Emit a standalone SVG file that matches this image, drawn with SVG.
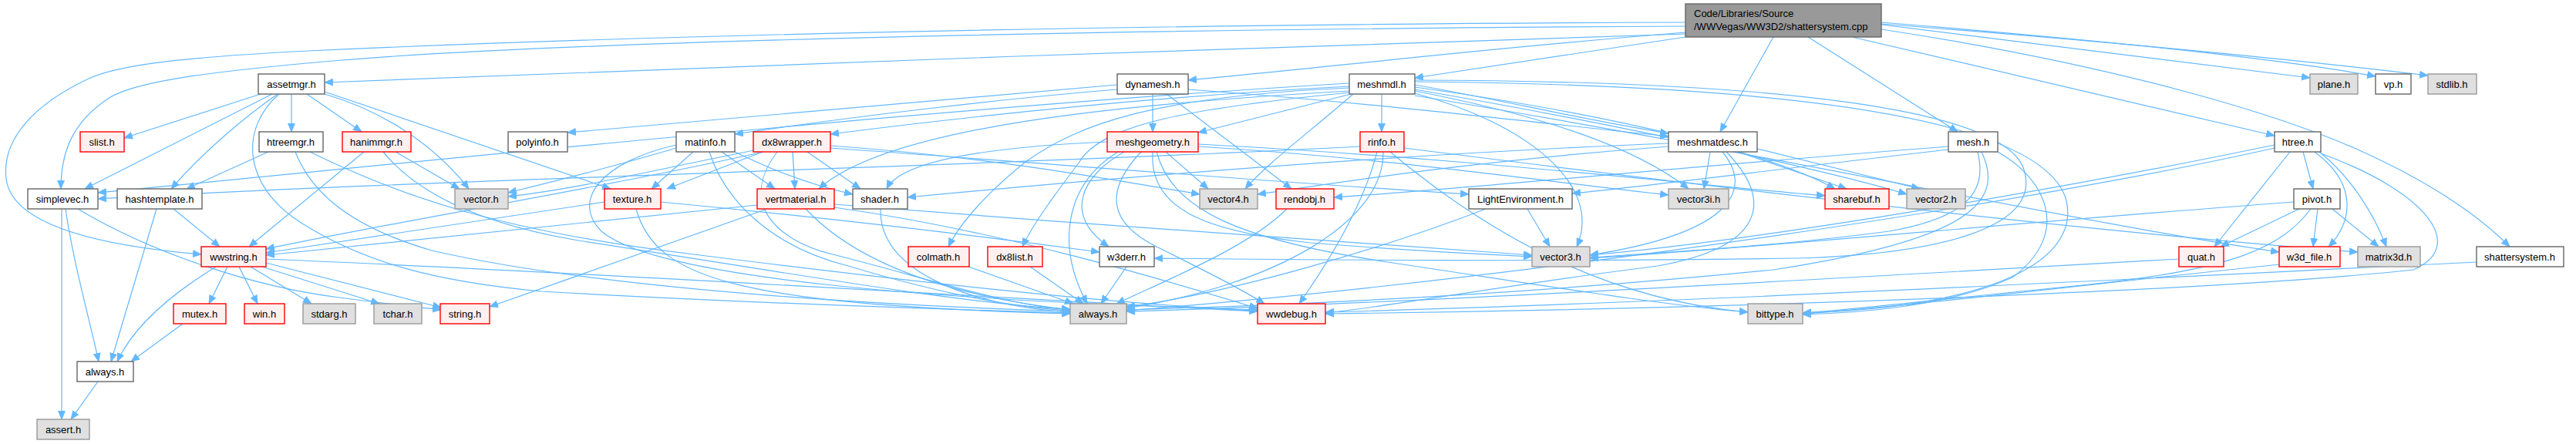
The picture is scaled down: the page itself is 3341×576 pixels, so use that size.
<svg xmlns="http://www.w3.org/2000/svg" width="3341" height="576" viewBox="0 0 3341 576">
<style>
.w{fill:#ffffff;stroke:#666666;stroke-width:1.4}
.r{fill:#fff0f0;stroke:#ff0000;stroke-width:1.4}
.g{fill:#e0e0e0;stroke:#999999;stroke-width:1.4}
.rt{fill:#999999;stroke:#666666;stroke-width:1.4}
text{font-family:"Liberation Sans",Arial,sans-serif;font-size:13px;fill:#000;text-anchor:middle}
.lt{text-anchor:start}
#edges path{fill:none;stroke:#63b8ff;stroke-width:1.2;marker-end:url(#a)}
</style>
<defs>
<marker id="a" viewBox="0 0 12 10" refX="11" refY="5" markerWidth="12" markerHeight="10" markerUnits="userSpaceOnUse" orient="auto">
<path d="M0,0 L12,5 L0,10 z" fill="#63b8ff"/>
</marker>
</defs>
<rect width="3341" height="576" fill="#ffffff"/>
<g id="edges">
<path d="M2186,44 C1700,58 900,88 421,107"/>
<path d="M2186,34 C1400,38 700,55 420,80 C250,95 170,108 140,128 C92,160 79,200 79,245"/>
<path d="M2186,29 C1300,32 700,52 400,66 C220,75 150,86 115,102 C45,135 2,180 8,232 C15,290 120,318 261,330"/>
<path d="M2186,42 C1900,65 1700,90 1541,104"/>
<path d="M2186,48 L1835,101"/>
<path d="M2300,48 L2231,171"/>
<path d="M2345,48 L2539,171"/>
<path d="M2402,48 L2950,176"/>
<path d="M2440,38 C2750,85 2960,150 3060,195 C3160,240 3220,285 3255,320"/>
<path d="M2440,32 L2996,101"/>
<path d="M2440,29 C2700,50 2950,75 3081,99"/>
<path d="M2440,31 C2750,55 3000,80 3149,98"/>
<path d="M338,122 L161,179"/>
<path d="M378,122 L378,171"/>
<path d="M398,122 L469,171"/>
<path d="M353,122 L110,245"/>
<path d="M360,122 C320,150 265,195 222,245"/>
<path d="M421,122 C500,145 565,190 608,245"/>
<path d="M421,119 L792,245"/>
<path d="M362,122 C312,165 312,240 392,290 C472,340 562,365 702,378 C1000,395 1250,402 1388,406"/>
<path d="M348,197 L242,245"/>
<path d="M383,197 C400,240 440,290 560,325 C800,380 1200,398 1388,404"/>
<path d="M402,197 C520,255 650,300 900,330 C1200,368 1450,395 1631,403"/>
<path d="M472,197 L323,320"/>
<path d="M513,197 L596,245"/>
<path d="M497,197 C540,250 620,290 750,312 C1000,350 1250,395 1388,401"/>
<path d="M80,271 L80,544"/>
<path d="M85,271 C95,340 115,410 128,469"/>
<path d="M101,271 C200,330 330,372 440,386 C500,394 540,398 572,402"/>
<path d="M203,271 L144,469"/>
<path d="M225,271 L285,320"/>
<path d="M280,346 C225,380 175,420 152,469"/>
<path d="M295,346 L271,394"/>
<path d="M310,346 L334,394"/>
<path d="M325,346 L404,394"/>
<path d="M340,346 L492,394"/>
<path d="M345,341 L572,399"/>
<path d="M345,336 C800,355 1350,390 1631,404"/>
<path d="M237,420 L170,469"/>
<path d="M127,495 L92,544"/>
<path d="M1449,110 L736,172"/>
<path d="M1449,116 C1300,128 1100,152 953,174"/>
<path d="M1495,122 L1495,171"/>
<path d="M1513,122 L1675,245"/>
<path d="M1541,116 C1800,135 2000,160 2164,177"/>
<path d="M1792,122 L1792,171"/>
<path d="M1752,122 L1554,172"/>
<path d="M1750,112 C1500,125 1250,152 1077,174"/>
<path d="M1750,118 C1450,135 1150,165 1062,245"/>
<path d="M1750,114 C1500,125 1400,160 1330,210 C1280,250 1245,290 1230,320"/>
<path d="M1750,120 C1550,140 1430,160 1400,210 C1370,250 1340,290 1326,320"/>
<path d="M1835,110 C1950,130 2050,155 2164,173"/>
<path d="M1835,118 C2000,150 2120,190 2190,245"/>
<path d="M1835,121 C1980,160 2080,240 2045,320"/>
<path d="M1755,122 C1700,170 1640,215 1615,245"/>
<path d="M1750,108 C1200,140 500,215 127,250"/>
<path d="M1835,113 C2100,150 2300,200 2380,245"/>
<path d="M1835,116 C2150,170 2400,230 2473,252"/>
<path d="M1835,106 C2300,110 2650,150 2680,260 C2700,350 2550,400 2338,406"/>
<path d="M1835,104 C2300,105 2600,140 2625,220 C2650,300 2500,330 2330,335 C2000,340 1700,337 1497,335"/>
<path d="M1835,124 C2300,200 2700,290 2956,327"/>
<path d="M1512,197 L1567,245"/>
<path d="M1458,197 C1400,230 1380,280 1438,320"/>
<path d="M1450,197 C1380,240 1370,320 1410,394"/>
<path d="M1480,197 C1430,250 1440,290 1500,320 C1560,350 1610,375 1640,394"/>
<path d="M1495,197 C1490,270 1560,300 1700,315 C1850,327 1930,330 1987,333"/>
<path d="M1500,197 C1520,270 1600,310 1800,340 C2000,370 2150,395 2267,405"/>
<path d="M1436,184 C1300,190 1170,205 1150,245"/>
<path d="M1554,190 C1800,205 2000,235 2164,253"/>
<path d="M1554,187 C1900,205 2200,240 2367,254"/>
<path d="M1786,197 C1770,260 1730,330 1685,394"/>
<path d="M1803,197 C1950,320 2100,390 2267,405"/>
<path d="M1794,197 C1795,290 1650,370 1461,400"/>
<path d="M1764,190 C1300,215 500,235 127,258"/>
<path d="M1821,192 C2200,240 2700,300 3058,327"/>
<path d="M1981,271 L2010,320"/>
<path d="M1927,271 C1800,320 1600,380 1461,398"/>
<path d="M2218,197 L2210,245"/>
<path d="M2234,197 C2270,240 2260,300 2062,331"/>
<path d="M2239,197 C2300,260 2290,320 2150,345 C1950,370 1800,398 1719,406"/>
<path d="M2254,197 L2395,245"/>
<path d="M2279,193 L2490,245"/>
<path d="M2164,190 C1900,210 1750,235 1631,252"/>
<path d="M2164,186 C1800,200 1400,235 1177,256"/>
<path d="M2527,190 C2200,215 1900,245 1730,256"/>
<path d="M2527,194 C2300,220 2150,240 2039,251"/>
<path d="M2565,197 C2575,240 2565,280 2450,300 C2300,320 2150,328 2062,334"/>
<path d="M2570,197 C2600,260 2560,310 2300,350 C2000,380 1700,395 1461,402"/>
<path d="M2591,197 C2650,230 2690,300 2610,360 C2520,400 2400,406 2338,408"/>
<path d="M2987,197 L3000,245"/>
<path d="M2970,197 L2872,320"/>
<path d="M3002,197 C3060,240 3050,290 3020,320"/>
<path d="M3008,197 C3050,230 3080,280 3095,320"/>
<path d="M3010,199 C3150,250 3200,320 3130,350 C2900,375 2300,400 1719,407"/>
<path d="M2950,188 C2700,240 2300,310 2062,331"/>
<path d="M2950,192 C2650,260 2000,360 1461,403"/>
<path d="M2982,271 L2880,320"/>
<path d="M3006,271 L3000,320"/>
<path d="M3025,271 L3085,320"/>
<path d="M2975,262 C2600,290 2300,320 2062,335"/>
<path d="M2997,271 C2960,320 2900,350 2700,370 C2500,390 2400,402 2338,406"/>
<path d="M2826,336 C2400,360 1800,395 1461,404"/>
<path d="M2956,343 C2700,370 2450,400 2338,407"/>
<path d="M3212,340 C2800,360 2200,392 1719,405"/>
<path d="M877,192 C800,215 700,240 659,250"/>
<path d="M899,197 L845,245"/>
<path d="M936,197 L1005,245"/>
<path d="M953,197 C1000,220 1050,240 1106,252"/>
<path d="M920,197 C940,260 1000,320 1100,345 C1200,375 1300,398 1388,403"/>
<path d="M877,188 C780,210 740,260 780,300 C850,360 1200,390 1631,402"/>
<path d="M978,195 C850,220 750,245 659,255"/>
<path d="M989,197 L865,245"/>
<path d="M1028,197 L1031,245"/>
<path d="M1047,197 L1116,245"/>
<path d="M1008,197 C960,260 1000,310 1080,330 C1200,360 1300,395 1388,402"/>
<path d="M1077,189 C1300,205 1450,235 1556,252"/>
<path d="M1077,192 C1400,215 1700,240 1905,252"/>
<path d="M990,197 C800,240 500,290 345,323"/>
<path d="M784,262 L345,328"/>
<path d="M825,271 C850,360 950,395 1388,407"/>
<path d="M857,262 C1100,285 1300,310 1426,327"/>
<path d="M995,271 L635,398"/>
<path d="M982,266 L345,331"/>
<path d="M1045,271 C1100,330 1200,380 1388,402"/>
<path d="M1082,265 C1400,290 1800,320 1987,331"/>
<path d="M1082,269 C1300,300 1500,360 1631,400"/>
<path d="M1142,271 C1140,350 1250,395 1388,405"/>
<path d="M1256,346 L1392,394"/>
<path d="M1336,346 L1405,394"/>
<path d="M1461,346 L1428,394"/>
<path d="M1669,271 C1620,320 1520,360 1448,394"/>
</g>
<g id="root"><rect class="rt" x="2186" y="5" width="254" height="43"/><text class="lt" x="2197" y="22">Code/Libraries/Source</text><text class="lt" x="2197" y="39">/WWVegas/WW3D2/shattersystem.cpp</text></g>
<g id="assetmgr"><rect class="w" x="335" y="96" width="86" height="26"/><text x="378" y="114">assetmgr.h</text></g>
<g id="dynamesh"><rect class="w" x="1449" y="96" width="92" height="26"/><text x="1495" y="114">dynamesh.h</text></g>
<g id="meshmdl"><rect class="w" x="1750" y="96" width="85" height="26"/><text x="1792" y="114">meshmdl.h</text></g>
<g id="plane"><rect class="g" x="2996" y="96" width="62" height="26"/><text x="3027" y="114">plane.h</text></g>
<g id="vp"><rect class="w" x="3081" y="96" width="46" height="26"/><text x="3104" y="114">vp.h</text></g>
<g id="stdlib"><rect class="g" x="3149" y="96" width="63" height="26"/><text x="3180" y="114">stdlib.h</text></g>
<g id="slist"><rect class="r" x="104" y="171" width="57" height="26"/><text x="132" y="189">slist.h</text></g>
<g id="htreemgr"><rect class="w" x="336" y="171" width="83" height="26"/><text x="377" y="189">htreemgr.h</text></g>
<g id="hanimmgr"><rect class="r" x="444" y="171" width="89" height="26"/><text x="488" y="189">hanimmgr.h</text></g>
<g id="polyinfo"><rect class="w" x="659" y="171" width="77" height="26"/><text x="697" y="189">polyinfo.h</text></g>
<g id="matinfo"><rect class="w" x="877" y="171" width="76" height="26"/><text x="915" y="189">matinfo.h</text></g>
<g id="dx8wrapper"><rect class="r" x="977" y="171" width="100" height="26"/><text x="1027" y="189">dx8wrapper.h</text></g>
<g id="meshgeometry"><rect class="r" x="1436" y="171" width="118" height="26"/><text x="1495" y="189">meshgeometry.h</text></g>
<g id="rinfo"><rect class="r" x="1764" y="171" width="57" height="26"/><text x="1792" y="189">rinfo.h</text></g>
<g id="meshmatdesc"><rect class="w" x="2164" y="171" width="115" height="26"/><text x="2221" y="189">meshmatdesc.h</text></g>
<g id="mesh"><rect class="w" x="2527" y="171" width="64" height="26"/><text x="2559" y="189">mesh.h</text></g>
<g id="htree"><rect class="w" x="2950" y="171" width="60" height="26"/><text x="2980" y="189">htree.h</text></g>
<g id="simplevec"><rect class="w" x="36" y="245" width="91" height="26"/><text x="81" y="263">simplevec.h</text></g>
<g id="hashtemplate"><rect class="w" x="152" y="245" width="110" height="26"/><text x="207" y="263">hashtemplate.h</text></g>
<g id="vector"><rect class="g" x="590" y="245" width="69" height="26"/><text x="624" y="263">vector.h</text></g>
<g id="texture"><rect class="r" x="784" y="245" width="73" height="26"/><text x="820" y="263">texture.h</text></g>
<g id="vertmaterial"><rect class="r" x="982" y="245" width="100" height="26"/><text x="1032" y="263">vertmaterial.h</text></g>
<g id="shader"><rect class="w" x="1106" y="245" width="71" height="26"/><text x="1141" y="263">shader.h</text></g>
<g id="vector4"><rect class="g" x="1556" y="245" width="75" height="26"/><text x="1593" y="263">vector4.h</text></g>
<g id="rendobj"><rect class="r" x="1655" y="245" width="75" height="26"/><text x="1692" y="263">rendobj.h</text></g>
<g id="LightEnvironment"><rect class="w" x="1905" y="245" width="134" height="26"/><text x="1972" y="263">LightEnvironment.h</text></g>
<g id="vector3i"><rect class="g" x="2164" y="245" width="78" height="26"/><text x="2203" y="263">vector3i.h</text></g>
<g id="sharebuf"><rect class="r" x="2367" y="245" width="83" height="26"/><text x="2408" y="263">sharebuf.h</text></g>
<g id="vector2"><rect class="g" x="2473" y="245" width="76" height="26"/><text x="2511" y="263">vector2.h</text></g>
<g id="pivot"><rect class="w" x="2975" y="245" width="60" height="26"/><text x="3005" y="263">pivot.h</text></g>
<g id="wwstring"><rect class="r" x="261" y="320" width="84" height="26"/><text x="303" y="338">wwstring.h</text></g>
<g id="colmath"><rect class="r" x="1178" y="320" width="79" height="26"/><text x="1217" y="338">colmath.h</text></g>
<g id="dx8list"><rect class="r" x="1281" y="320" width="71" height="26"/><text x="1316" y="338">dx8list.h</text></g>
<g id="w3derr"><rect class="w" x="1426" y="320" width="71" height="26"/><text x="1461" y="338">w3derr.h</text></g>
<g id="vector3"><rect class="g" x="1987" y="320" width="75" height="26"/><text x="2024" y="338">vector3.h</text></g>
<g id="quat"><rect class="r" x="2826" y="320" width="58" height="26"/><text x="2855" y="338">quat.h</text></g>
<g id="w3d_file"><rect class="r" x="2956" y="320" width="79" height="26"/><text x="2995" y="338">w3d_file.h</text></g>
<g id="matrix3d"><rect class="g" x="3058" y="320" width="81" height="26"/><text x="3098" y="338">matrix3d.h</text></g>
<g id="shattersystem"><rect class="w" x="3212" y="320" width="113" height="26"/><text x="3268" y="338">shattersystem.h</text></g>
<g id="mutex"><rect class="r" x="225" y="394" width="68" height="26"/><text x="259" y="412">mutex.h</text></g>
<g id="win"><rect class="r" x="317" y="394" width="52" height="26"/><text x="343" y="412">win.h</text></g>
<g id="stdarg"><rect class="g" x="393" y="394" width="68" height="26"/><text x="427" y="412">stdarg.h</text></g>
<g id="tchar"><rect class="g" x="485" y="394" width="62" height="26"/><text x="516" y="412">tchar.h</text></g>
<g id="string"><rect class="r" x="571" y="394" width="64" height="26"/><text x="603" y="412">string.h</text></g>
<g id="always2"><rect class="g" x="1388" y="394" width="73" height="26"/><text x="1424" y="412">always.h</text></g>
<g id="wwdebug"><rect class="r" x="1631" y="394" width="88" height="26"/><text x="1675" y="412">wwdebug.h</text></g>
<g id="bittype"><rect class="g" x="2267" y="394" width="71" height="26"/><text x="2302" y="412">bittype.h</text></g>
<g id="always"><rect class="w" x="100" y="469" width="73" height="26"/><text x="136" y="487">always.h</text></g>
<g id="assert"><rect class="g" x="48" y="544" width="68" height="26"/><text x="82" y="562">assert.h</text></g>
</svg>
